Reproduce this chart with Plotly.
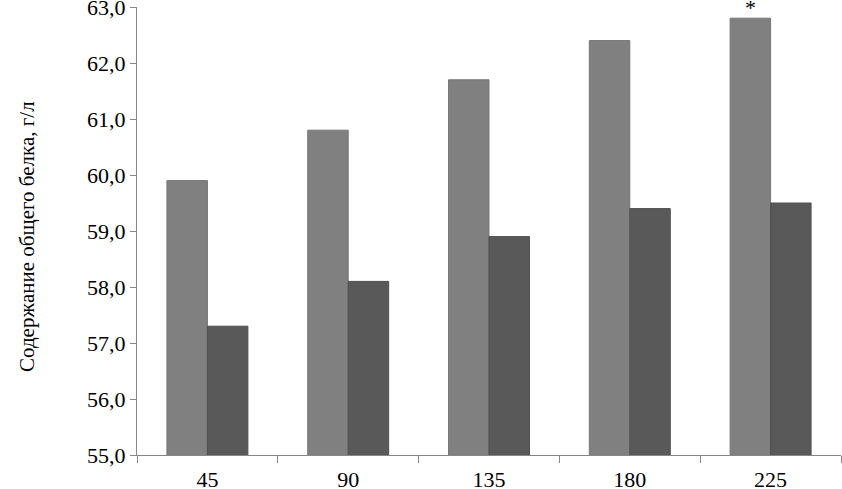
import plotly.graph_objects as go

# days of observation
categories = ["45", "90", "135", "180", "225"]
# total protein, g/l
group_1 = [59.9, 60.8, 61.7, 62.4, 62.8]
group_2 = [57.3, 58.1, 58.9, 59.4, 59.5]
marks_1 = ["", "", "", "", "*"]
y_title = "Содержание общего белка, г/л"

FONT = "Liberation Serif"
SIZE = 22
AXIS = "#868686"
BARGAP = 0.425

fig = go.Figure()
fig.add_trace(go.Bar(
    x=categories, y=group_1,
    marker=dict(color="#808080", line=dict(color="#767676", width=1)),
))
fig.add_trace(go.Bar(
    x=categories, y=group_2,
    marker=dict(color="#595959", line=dict(color="#505050", width=1)),
))

# significance marks over the first group's bars
offset = (1 - BARGAP) / 4
for i, (m, v) in enumerate(zip(marks_1, group_1)):
    if m:
        fig.add_annotation(x=i - offset, y=v, text=m, showarrow=False,
                           yanchor="bottom", yshift=-4,
                           font=dict(family=FONT, size=SIZE, color="black"))

# y title as an annotation so it can sit a bit below the axis middle
fig.add_annotation(text=y_title, xref="paper", yref="paper", x=0, y=0.5,
                   xshift=-124, yshift=-6, textangle=-90, showarrow=False,
                   font=dict(family=FONT, size=21, color="black"))

fig.update_layout(
    width=842, height=489,
    margin=dict(l=137, r=1, t=7, b=34),
    plot_bgcolor="white", paper_bgcolor="white",
    barmode="group", bargap=BARGAP, bargroupgap=0,
    showlegend=False,
    separators=", ",
    font=dict(family=FONT, size=SIZE, color="black"),
)
fig.update_xaxes(
    type="category", showline=True, linecolor=AXIS, linewidth=1,
    ticks="outside", tickson="boundaries", ticklen=7, tickcolor=AXIS,
    showgrid=False, automargin=False, ticklabelstandoff=5,
    tickfont=dict(family=FONT, size=SIZE, color="black"),
)
fig.update_yaxes(
    range=[55, 63], dtick=1, tickformat=".1f",
    showline=True, linecolor=AXIS, linewidth=1,
    ticks="outside", ticklen=6, tickcolor=AXIS,
    showgrid=False, zeroline=False, automargin=False,
    ticklabeloverflow="allow",
    tickfont=dict(family=FONT, size=SIZE, color="black"),
)

# drop the browser's default body margin so the figure sits at the page corner
fig.write_html("out.html", config={"displayModeBar": False},
               post_script="document.body.style.margin = '0';")
